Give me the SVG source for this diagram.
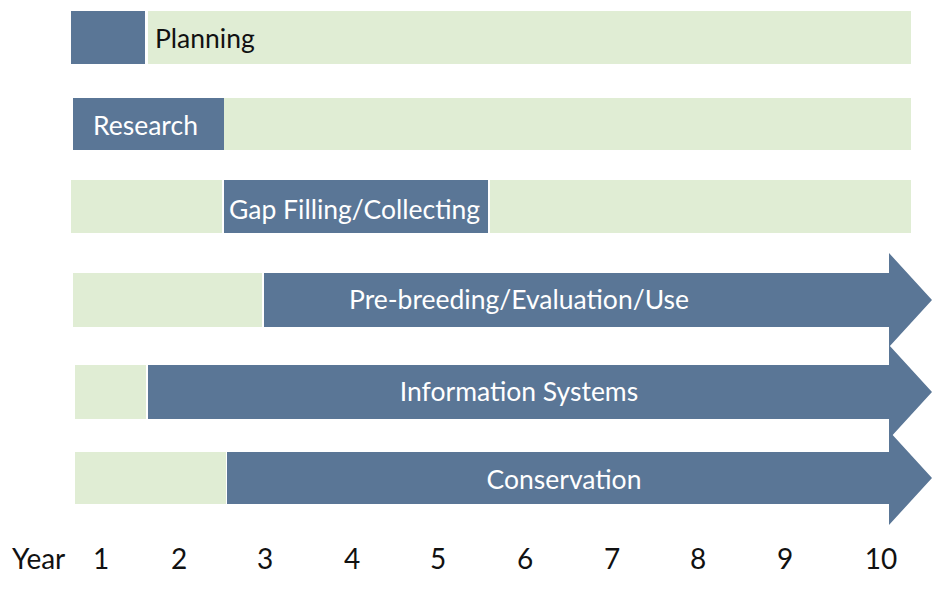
<svg xmlns="http://www.w3.org/2000/svg" width="936" height="608" viewBox="0 0 936 608">
  <style>
    .bg { fill: #ffffff; }
    .idle { fill: #e0edd4; }
    .active { fill: #5a7696; }
    .lbl { font-family: Lato, "Open Sans", "Liberation Sans", sans-serif; font-size: 26.5px; }
    .on-blue { fill: #ffffff; }
    .on-green { fill: #111111; }
    .axis { font-family: Lato, "Open Sans", "Liberation Sans", sans-serif; font-size: 28px; fill: #111111; }
  </style>
  <rect class="bg" x="0" y="0" width="936" height="608"/>

  <!-- Phase rows: green = inactive span, blue = active span -->
  <g id="planning">
    <rect class="idle" x="148" y="11" width="763" height="53"/>
    <rect class="active" x="71" y="11" width="74" height="53"/>
    <text class="lbl on-green" x="155" y="48">Planning</text>
  </g>

  <g id="research">
    <rect class="idle" x="224" y="98" width="687" height="52"/>
    <rect class="active" x="73" y="98" width="151" height="52"/>
    <text class="lbl on-blue" x="93" y="135">Research</text>
  </g>

  <g id="gap-filling">
    <rect class="idle" x="71" y="180" width="151" height="53"/>
    <rect class="idle" x="490" y="180" width="421" height="53"/>
    <rect class="active" x="224" y="180" width="264" height="53"/>
    <text class="lbl on-blue" x="229" y="219">Gap Filling/Collecting</text>
  </g>

  <g id="pre-breeding">
    <rect class="idle" x="73" y="273" width="189" height="54"/>
    <path class="active" d="M264 273 H889 V253 L932 300 L889 347 V327 H264 Z"/>
    <text class="lbl on-blue" x="519" y="309" text-anchor="middle">Pre-breeding/Evaluation/Use</text>
  </g>

  <g id="information-systems">
    <rect class="idle" x="75" y="365" width="71" height="54"/>
    <path class="active" d="M148 365 H889 V345 L932 392 L889 439 V419 H148 Z"/>
    <text class="lbl on-blue" x="519" y="401" text-anchor="middle">Information Systems</text>
  </g>

  <g id="conservation">
    <rect class="idle" x="75" y="452" width="151" height="52"/>
    <path class="active" d="M227 452 H889 V431 L932 478 L889 525 V504 H227 Z"/>
    <text class="lbl on-blue" x="564" y="489" text-anchor="middle">Conservation</text>
  </g>

  <g id="connectors"/>

  <!-- Year axis -->
  <g id="year-axis">
    <text class="axis" x="12" y="569">Year</text>
    <text class="axis" x="101" y="569" text-anchor="middle">1</text>
    <text class="axis" x="179" y="569" text-anchor="middle">2</text>
    <text class="axis" x="265" y="569" text-anchor="middle">3</text>
    <text class="axis" x="352" y="569" text-anchor="middle">4</text>
    <text class="axis" x="438" y="569" text-anchor="middle">5</text>
    <text class="axis" x="525" y="569" text-anchor="middle">6</text>
    <text class="axis" x="612" y="569" text-anchor="middle">7</text>
    <text class="axis" x="698" y="569" text-anchor="middle">8</text>
    <text class="axis" x="785" y="569" text-anchor="middle">9</text>
    <text class="axis" x="881" y="569" text-anchor="middle">10</text>
  </g>
</svg>
